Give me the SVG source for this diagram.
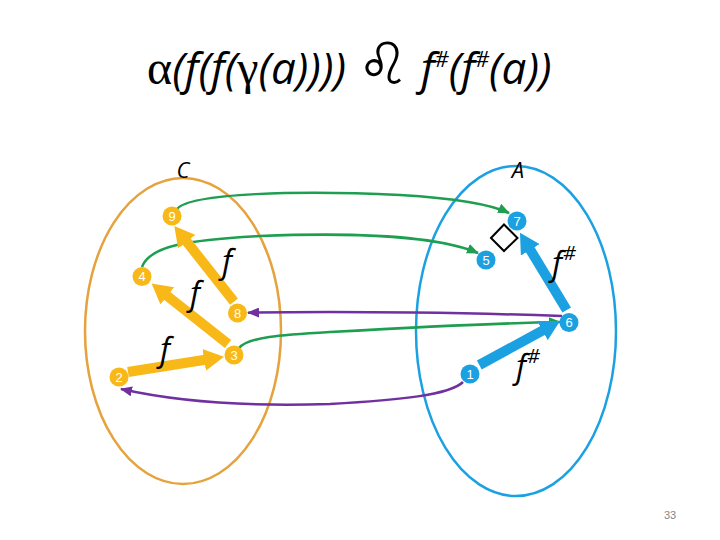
<svg xmlns="http://www.w3.org/2000/svg" width="720" height="540" viewBox="0 0 720 540">
<style>
.ttl{font-family:"Open Sans","Liberation Sans",sans-serif;font-style:italic;font-size:44px;fill:#000}
.sym{font-family:"Liberation Serif",serif;font-style:normal;font-size:48px}
.lbl{font-family:"Open Sans","Liberation Sans",sans-serif;font-style:italic;font-size:32px;fill:#000}
.set{font-family:"Open Sans","Liberation Sans",sans-serif;font-style:italic;font-size:22px;fill:#000;text-anchor:middle}
.num{font-family:"Liberation Sans",sans-serif;font-size:13px;fill:#fff;text-anchor:middle}
.o{fill:#F8B818}
.b{fill:#1BA1E2}
.g{fill:none;stroke:#1E9E50;stroke-width:2.5}
.p{fill:none;stroke:#7030A0;stroke-width:2.5}
</style>
<defs>
<marker id="ho" viewBox="0 0 20 22" refX="1" refY="11" markerWidth="20" markerHeight="22" markerUnits="userSpaceOnUse" orient="auto"><path d="M0,0 L20,11 L0,22 z" fill="#F8B818"/></marker>
<marker id="hb" viewBox="0 0 20 22" refX="1" refY="11" markerWidth="20" markerHeight="22" markerUnits="userSpaceOnUse" orient="auto"><path d="M0,0 L20,11 L0,22 z" fill="#1BA1E2"/></marker>
<marker id="hg" viewBox="0 0 12 10" refX="11" refY="5" markerWidth="12" markerHeight="10" markerUnits="userSpaceOnUse" orient="auto"><path d="M0,0 L12,5 L0,10 z" fill="#1E9E50"/></marker>
<marker id="hp" viewBox="0 0 12 10" refX="11" refY="5" markerWidth="12" markerHeight="10" markerUnits="userSpaceOnUse" orient="auto"><path d="M0,0 L12,5 L0,10 z" fill="#7030A0"/></marker>
</defs>
<rect width="720" height="540" fill="#fff"/>
<text class="ttl" x="147" y="84"><tspan class="sym">α</tspan>(f(f(<tspan class="sym">γ</tspan>(a)))) <tspan font-family="DejaVu Sans" font-style="normal" font-size="58">♌</tspan> f<tspan font-size="22" dy="-17">#</tspan><tspan dy="17">(f</tspan><tspan font-size="22" dy="-17">#</tspan><tspan dy="17">(a))</tspan></text>
<g id="setC"><ellipse cx="183" cy="331" rx="98" ry="153" fill="none" stroke="#E6A23C" stroke-width="2.5"/><text class="set" x="183" y="178">C</text></g>
<g id="setA"><ellipse cx="516" cy="331" rx="100" ry="165" fill="none" stroke="#1BA1E2" stroke-width="2.5"/><text class="set" x="518" y="178">A</text></g>
<g id="connectors">
<path class="g" d="M177,209 C190,193 300,190 400,195 C450,198 488,203 509,213" marker-end="url(#hg)"/>
<path class="g" d="M142,267 C150,245 190,240 260,236 C360,232 440,237 478,253" marker-end="url(#hg)"/>
<path class="g" d="M239,348 C248,337 280,335 330,332 C420,327 500,323 560,322" marker-end="url(#hg)"/>
<path class="p" d="M562,316 C480,313 350,311 248,312.7" marker-end="url(#hp)"/>
<path class="p" d="M463,382 C450,395 400,400 330,404 C240,407 170,400 121,389" marker-end="url(#hp)"/>
<line x1="128" y1="372" x2="205.2" y2="359.7" stroke="#F8B818" stroke-width="10" marker-end="url(#ho)"/>
<line x1="228" y1="344" x2="166.5" y2="295.3" stroke="#F8B818" stroke-width="10" marker-end="url(#ho)"/>
<line x1="234" y1="301.7" x2="186.1" y2="240.9" stroke="#F8B818" stroke-width="10" marker-end="url(#ho)"/>
<line x1="479.3" y1="365" x2="543.3" y2="330.1" stroke="#1BA1E2" stroke-width="10" marker-end="url(#hb)"/>
<line x1="566.7" y1="310" x2="529.8" y2="249" stroke="#1BA1E2" stroke-width="10" marker-end="url(#hb)"/>
<text class="lbl" x="222" y="273">f</text>
<text class="lbl" x="190" y="305">f</text>
<text class="lbl" x="160" y="361">f</text>
<text class="lbl" x="552" y="275">f<tspan font-size="20" dx="1" dy="-15">#</tspan></text>
<text class="lbl" x="516" y="378">f<tspan font-size="20" dx="1" dy="-15">#</tspan></text>
<path d="M491,238 L504,224.5 L517.5,238 L504,251 z" fill="#fff" stroke="#000" stroke-width="2"/>
</g>
<g id="n9"><circle class="o" cx="172" cy="216" r="9.5"/><text class="num" x="172" y="220.5">9</text></g>
<g id="n4"><circle class="o" cx="142" cy="276.5" r="9.5"/><text class="num" x="142" y="281">4</text></g>
<g id="n2"><circle class="o" cx="119" cy="377" r="9.5"/><text class="num" x="119" y="381.5">2</text></g>
<g id="n8"><circle class="o" cx="237.5" cy="313" r="9.5"/><text class="num" x="237.5" y="317.5">8</text></g>
<g id="n3"><circle class="o" cx="234" cy="355" r="9.5"/><text class="num" x="234" y="359.5">3</text></g>
<g id="n7"><circle class="b" cx="517" cy="221" r="9.5"/><text class="num" x="517" y="225.5">7</text></g>
<g id="n5"><circle class="b" cx="486" cy="260" r="9.5"/><text class="num" x="486" y="264.5">5</text></g>
<g id="n6"><circle class="b" cx="569" cy="322.5" r="9.5"/><text class="num" x="569" y="327">6</text></g>
<g id="n1"><circle class="b" cx="470" cy="374" r="9.5"/><text class="num" x="470" y="378.5">1</text></g>
<text x="670" y="519" font-family="Liberation Sans, sans-serif" font-size="11" fill="#888" text-anchor="middle">33</text>
</svg>
